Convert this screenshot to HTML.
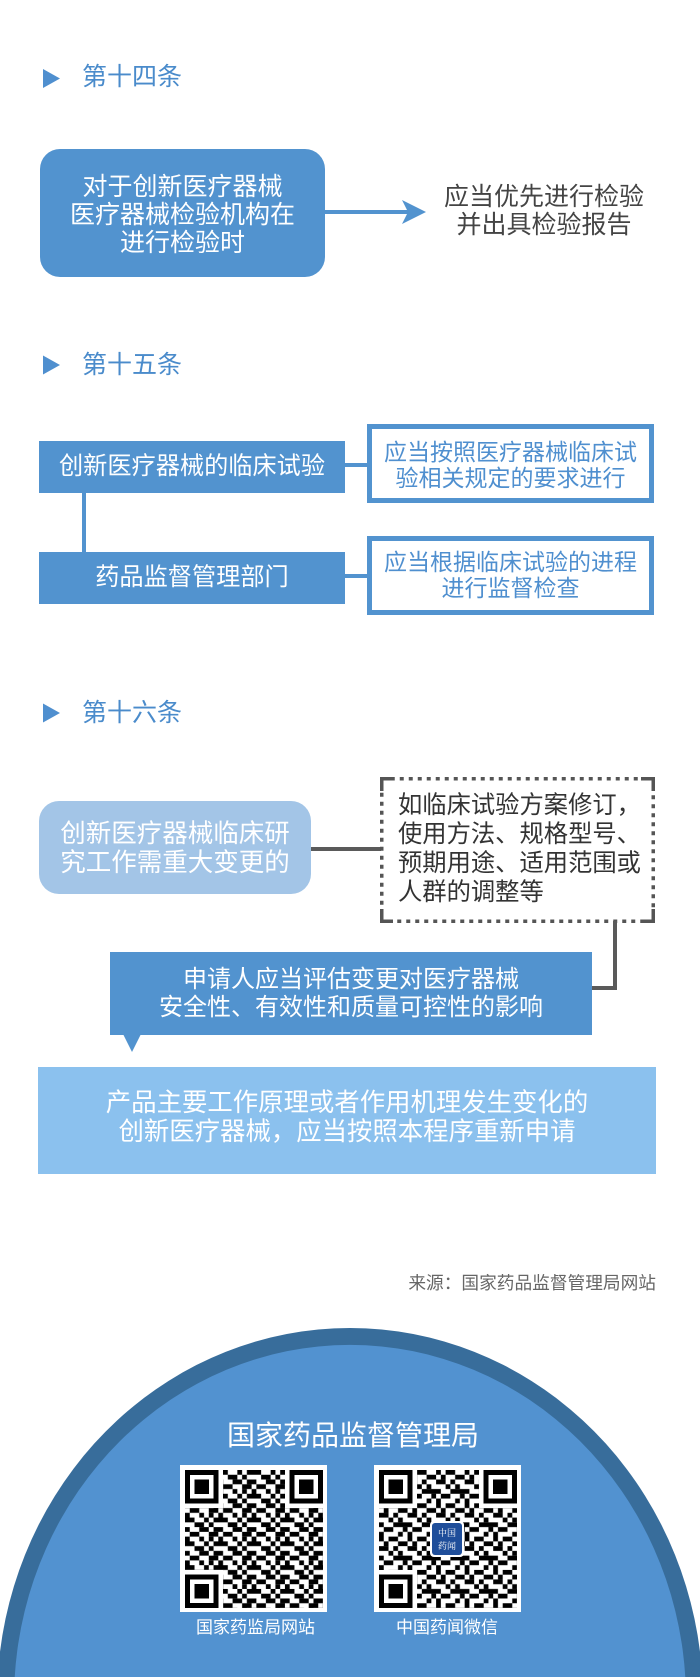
<!DOCTYPE html>
<html><head><meta charset="utf-8"><style>
html{margin:0;padding:0;width:700px;height:1677px;overflow:hidden;background:#fff;}
body{margin:0;padding:0;width:700px;height:1677px;position:relative;overflow:hidden;font-family:"Liberation Sans","Noto Sans CJK SC",sans-serif;}
.t{position:absolute;white-space:nowrap;}
.c{text-align:center;}
.w{color:#fff;}
.ttl{position:absolute;left:82px;font-size:25px;line-height:30px;color:#4a8bcb;white-space:nowrap;}
svg.main{position:absolute;left:0;top:0;display:block;overflow:hidden;}
</style></head><body>
<svg class="main" width="700" height="1677" viewBox="0 0 700 1677">
<defs>
<pattern id="t1" width="7" height="5" patternUnits="userSpaceOnUse">
<rect x="0" y="0" width="2" height="1"/><rect x="4" y="0" width="1" height="1"/><rect x="6" y="0" width="1" height="1"/>
<rect x="2" y="1" width="2" height="1"/><rect x="5" y="1" width="1" height="1"/>
<rect x="0" y="2" width="1" height="1"/><rect x="3" y="2" width="2" height="1"/><rect x="6" y="2" width="1" height="1"/>
<rect x="1" y="3" width="2" height="1"/><rect x="5" y="3" width="2" height="1"/>
<rect x="0" y="4" width="1" height="1"/><rect x="3" y="4" width="1" height="1"/><rect x="5" y="4" width="1" height="1"/>
</pattern>
<pattern id="t2" width="6" height="7" patternUnits="userSpaceOnUse">
<rect x="0" y="0" width="1" height="1"/><rect x="2" y="0" width="2" height="1"/>
<rect x="1" y="1" width="1" height="1"/><rect x="4" y="1" width="2" height="1"/>
<rect x="0" y="2" width="2" height="1"/><rect x="3" y="2" width="1" height="1"/>
<rect x="2" y="3" width="1" height="1"/><rect x="4" y="3" width="1" height="1"/>
<rect x="0" y="4" width="1" height="1"/><rect x="3" y="4" width="3" height="1"/>
<rect x="1" y="5" width="2" height="1"/><rect x="5" y="5" width="1" height="1"/>
<rect x="0" y="6" width="1" height="1"/><rect x="4" y="6" width="1" height="1"/>
</pattern>
<g id="fp"><rect x="0" y="0" width="8" height="8" fill="#fff"/><rect x="0" y="0" width="7" height="7" fill="#000"/><rect x="1" y="1" width="5" height="5" fill="#fff"/><rect x="2" y="2" width="3" height="3" fill="#000"/></g>
<g id="fp2"><rect x="-1" y="0" width="8" height="8" fill="#fff"/><rect x="0" y="0" width="7" height="7" fill="#000"/><rect x="1" y="1" width="5" height="5" fill="#fff"/><rect x="2" y="2" width="3" height="3" fill="#000"/></g>
<g id="fp3"><rect x="0" y="-1" width="8" height="8" fill="#fff"/><rect x="0" y="0" width="7" height="7" fill="#000"/><rect x="1" y="1" width="5" height="5" fill="#fff"/><rect x="2" y="2" width="3" height="3" fill="#000"/></g>
</defs>

<!-- section titles triangles -->
<polygon points="43,69 60,78.5 43,88" fill="#4f8fcf"/>
<polygon points="43,355.5 60,365 43,374.5" fill="#4f8fcf"/>
<polygon points="43,703.5 60,713 43,722.5" fill="#4f8fcf"/>

<!-- section 14 -->
<rect x="40" y="149" width="285" height="128" rx="20" fill="#5293cf"/>
<rect x="325" y="210" width="85" height="4" fill="#5293cf"/>
<path d="M426,212 L402,200 L408,212 L402,224 Z" fill="#5293cf"/>

<!-- section 15 -->
<rect x="39" y="441" width="306" height="52" fill="#5293cf"/>
<rect x="39" y="552" width="306" height="52" fill="#5293cf"/>
<rect x="82" y="493" width="4" height="59" fill="#5293cf"/>
<rect x="345" y="463" width="22" height="4" fill="#5293cf"/>
<rect x="345" y="574" width="22" height="4" fill="#5293cf"/>
<rect x="369.5" y="426.5" width="282" height="74" fill="#fff" stroke="#5293cf" stroke-width="5"/>
<rect x="369.5" y="538.5" width="282" height="74" fill="#fff" stroke="#5293cf" stroke-width="5"/>

<!-- section 16 -->
<rect x="39" y="801" width="272" height="93" rx="20" fill="#a3c5e7"/>
<rect x="311" y="847" width="70" height="4" fill="#5a5a5a"/>
<rect x="381.75" y="778.75" width="271.5" height="142.5" fill="none" stroke="#555" stroke-width="3.5" stroke-dasharray="4 5"/>
<path d="M381.75,791 V778.75 H393 M641,778.75 H653.25 V791 M381.75,909 V921.25 H393 M641,921.25 H653.25 V909" fill="none" stroke="#555" stroke-width="3.5"/>
<path d="M615,921 V988 H592" fill="none" stroke="#5a5a5a" stroke-width="4"/>
<rect x="110" y="952" width="482" height="83" fill="#5293cf"/>
<polygon points="123,1034 141,1034 132,1052" fill="#5293cf"/>
<rect x="38" y="1067" width="618" height="107" fill="#8bc1ee"/>

<!-- dome (clipped arcs, kept inside frame) -->
<path d="M0,1677 L0,1651.6 A353,372 0 0 1 700,1651.6 L700,1677 Z" fill="#386d9b"/>
<path d="M14.7,1677 A336,355 0 0 1 685.3,1677 Z" fill="#5292d0"/>

<!-- QR 1 -->
<rect x="180" y="1465" width="147" height="147" fill="#fff"/>
<svg x="185" y="1470" width="138" height="138" viewBox="0 0 29 29" shape-rendering="crispEdges">
<rect x="0" y="0" width="29" height="29" fill="url(#t1)"/>
<use href="#fp" x="0" y="0"/>
<use href="#fp2" x="22" y="0"/>
<use href="#fp3" x="0" y="22"/>
</svg>
<!-- QR 2 -->
<rect x="374" y="1465" width="147" height="147" fill="#fff"/>
<svg x="379" y="1470" width="138" height="138" viewBox="0 0 29 29" shape-rendering="crispEdges">
<rect x="0" y="0" width="29" height="29" fill="url(#t2)"/>
<use href="#fp" x="0" y="0"/>
<use href="#fp2" x="22" y="0"/>
<use href="#fp3" x="0" y="22"/>
</svg>
<rect x="430" y="1521" width="34" height="36" rx="4" fill="#fff"/>
<rect x="432" y="1523" width="30" height="32" rx="3" fill="#1f4e9a"/>
<text x="447" y="1536" font-size="9" fill="#fff" text-anchor="middle" font-family="Noto Serif CJK SC, serif">中国</text>
<text x="447" y="1549" font-size="9" fill="#fff" text-anchor="middle" font-family="Noto Serif CJK SC, serif">药闻</text>
</svg>

<!-- titles -->
<div class="ttl" style="top:61.5px">第十四条</div>
<div class="ttl" style="top:350px">第十五条</div>
<div class="ttl" style="top:698px">第十六条</div>

<!-- section 14 text -->
<div class="t c w" style="left:40px;width:285px;top:173px;font-size:25px;line-height:28px;">对于创新医疗器械<br>医疗器械检验机构在<br>进行检验时</div>
<div class="t c" style="left:394px;width:300px;top:183px;font-size:25px;line-height:28px;color:#444;">应当优先进行检验<br>并出具检验报告</div>

<!-- section 15 text -->
<div class="t c w" style="left:39px;width:306px;top:441px;font-size:24.2px;line-height:52px;">创新医疗器械的临床试验</div>
<div class="t c w" style="left:39px;width:306px;top:552px;font-size:24.2px;line-height:52px;">药品监督管理部门</div>
<div class="t c" style="left:367px;width:287px;top:439px;font-size:23px;line-height:26px;color:#4f8fcf;">应当按照医疗器械临床试<br>验相关规定的要求进行</div>
<div class="t c" style="left:367px;width:287px;top:549px;font-size:23px;line-height:26px;color:#4f8fcf;">应当根据临床试验的进程<br>进行监督检查</div>

<!-- section 16 text -->
<div class="t c w" style="left:39px;width:272px;top:819.5px;font-size:25.5px;line-height:29px;">创新医疗器械临床研<br>究工作需重大变更的</div>
<div class="t" style="left:398px;top:790.5px;font-size:24.3px;line-height:29px;color:#333;">如临床试验方案修订，<br>使用方法、规格型号、<br>预期用途、适用范围或<br>人群的调整等</div>
<div class="t c w" style="left:110px;width:482px;top:966px;font-size:24px;line-height:28px;">申请人应当评估变更对医疗器械<br>安全性、有效性和质量可控性的影响</div>
<div class="t c w" style="left:38px;width:618px;top:1088.5px;font-size:25.4px;line-height:29px;">产品主要工作原理或者作用机理发生变化的<br>创新医疗器械，应当按照本程序重新申请</div>

<!-- source -->
<div class="t" style="left:0;width:656px;text-align:right;top:1271px;font-size:17.7px;line-height:24px;color:#666;">来源：国家药品监督管理局网站</div>

<!-- dome text -->
<div class="t c w" style="left:6px;width:694px;top:1418px;font-size:28px;line-height:36px;">国家药品监督管理局</div>
<div class="t c w" style="left:155.5px;width:200px;top:1616px;font-size:17px;line-height:24px;">国家药监局网站</div>
<div class="t c w" style="left:347px;width:200px;top:1616px;font-size:17px;line-height:24px;">中国药闻微信</div>
</body></html>
